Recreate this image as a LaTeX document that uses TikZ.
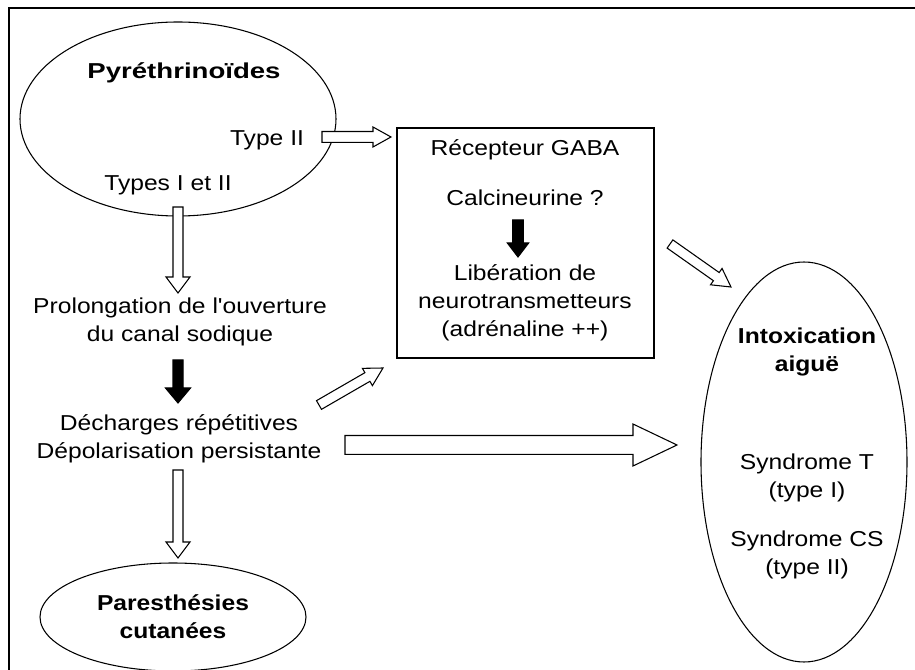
\documentclass[tikz,border=0pt]{standalone}
\usepackage{fontspec}
\setmainfont{Liberation Sans}[FakeStretch=1.14, Ligatures=TeXOff]
\usetikzlibrary{calc,shapes.geometric}
\newcommand{\blockarrow}[6]{%
  \coordinate (ba-h) at ($(#3)!#6!(#2)$);
  \draw[#1] ($(#2)!#4!90:(#3)$) -- ($(ba-h)!#4!90:(#3)$) -- ($(ba-h)!#5!90:(#3)$) -- (#3)
    -- ($(ba-h)!#5!-90:(#3)$) -- ($(ba-h)!#4!-90:(#3)$) -- ($(#2)!#4!-90:(#3)$) -- cycle;
}
\tikzset{
  txt/.style={font=\fontsize{16.2}{21}\selectfont, align=center, inner sep=0pt},
  btxt/.style={font=\fontsize{16.2}{21}\selectfont\bfseries, align=center, inner sep=0pt},
  shapeline/.style={draw=black, line width=0.8pt},
  hollow/.style={draw=black, fill=white, line width=0.8pt, line join=miter},
  solidarrow/.style={draw=black, fill=black, line width=0.8pt, line join=miter},
}
\begin{document}
\begin{tikzpicture}[x=0.75pt,y=-0.75pt]
\useasboundingbox (0,0) rectangle (915,670);
\draw[line width=1.5pt] (9,672) -- (9,8) -- (917,8);

% shapes
\node[shapeline, ellipse, minimum width=237pt, minimum height=145.5pt, inner sep=0pt] (pyr) at (178,119) {};
\node[shapeline, rectangle, minimum width=192.75pt, minimum height=172.5pt, inner sep=0pt] (box) at (525.5,243) {};
\node[shapeline, ellipse, minimum width=199.5pt, minimum height=81pt, inner sep=0pt] (par) at (173,617) {};
\node[shapeline, ellipse, minimum width=154.5pt, minimum height=300pt, inner sep=0pt] (intox) at (804,462) {};

% texts
\node[btxt] (tpyr) at (184,73) {\scalebox{1.12}[1]{Pyréthrinoïdes}};
\node[txt] (ttype2) at (267,140) {Type II};
\node[txt] (ttypes) at (168,185) {Types I et II};
\node[txt] (tgaba) at (525,150) {Récepteur GABA};
\node[txt] (tcalc) at (525,198) {Calcineurine ?};
\node[txt] (tlib) at (525,302.5) {Libération de\\neurotransmetteurs\\(adrénaline ++)};
\node[txt] (tprol) at (180,322) {Prolongation de l'ouverture\\du canal sodique};
\node[txt] (tdech) at (179,439) {Décharges répétitives\\Dépolarisation persistante};
\node[btxt] (tpar) at (173,616.5) {Paresthésies\\cutanées};
\node[btxt] (tintox) at (807,351.5) {Intoxication\\aiguë};
\node[txt] (tsynt) at (807,478) {Syndrome T\\(type I)};
\node[txt] (tsyncs) at (807,555) {Syndrome CS\\(type II)};

% arrow end points
\coordinate (a1s) at (322,137); \coordinate (a1e) at (391,137);
\coordinate (a2s) at (178,207); \coordinate (a2e) at (178,293);
\coordinate (b1s) at (178,360); \coordinate (b1e) at (178,403);
\coordinate (b2s) at (518,220); \coordinate (b2e) at (518,257);
\coordinate (a3s) at (178,470); \coordinate (a3e) at (178,558);
\coordinate (a4s) at (319,405); \coordinate (a4e) at (383,368);
\coordinate (a5s) at (670,244); \coordinate (a5e) at (731,287);
\coordinate (a6s) at (345,445); \coordinate (a6e) at (677,445);

% arrows
\blockarrow{hollow}{a1s}{a1e}{4.1pt}{7.5pt}{13.5pt}
\blockarrow{hollow}{a2s}{a2e}{3.75pt}{9pt}{12pt}
\blockarrow{solidarrow}{b1s}{b1e}{3.75pt}{9.4pt}{11.25pt}
\blockarrow{solidarrow}{b2s}{b2e}{4pt}{8pt}{10.5pt}
\blockarrow{hollow}{a3s}{a3e}{3.75pt}{9pt}{12pt}
\blockarrow{hollow}{a4s}{a4e}{3.75pt}{7.5pt}{13.5pt}
\blockarrow{hollow}{a5s}{a5e}{3.75pt}{7.5pt}{13.5pt}
\blockarrow{hollow}{a6s}{a6e}{7.1pt}{15.75pt}{33pt}
\end{tikzpicture}
\end{document}
